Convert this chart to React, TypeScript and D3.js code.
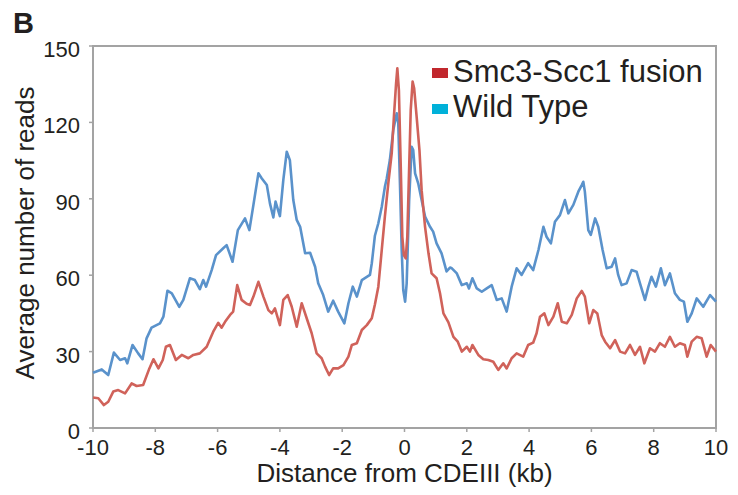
import React from 'react'
import * as d3 from 'd3'

// Smc3-Scc1 fusion (red), distance in kb and average reads
const fusionKb = [
  -10.0, -9.83, -9.65, -9.51, -9.35, -9.19, -8.97, -8.76, -8.6, -8.39, -8.19, -8.06, -7.9, -7.76, -7.66,
  -7.53, -7.34, -7.15, -6.94, -6.78, -6.57, -6.35, -6.14, -5.98, -5.87, -5.76, -5.6, -5.5, -5.37, -5.23,
  -5.07, -4.96, -4.85, -4.69, -4.53, -4.37, -4.26, -4.16, -4.0, -3.89, -3.75, -3.62, -3.46, -3.3, -3.14,
  -2.98, -2.82, -2.66, -2.55, -2.42, -2.29, -2.13, -1.96, -1.8, -1.69, -1.53, -1.37, -1.21, -1.05, -0.95,
  -0.84, -0.73, -0.63, -0.52, -0.41, -0.34, -0.27, -0.23, -0.18, -0.12, -0.07, -0.02, 0.04, 0.09, 0.15,
  0.2, 0.26, 0.31, 0.39, 0.48, 0.55, 0.66, 0.77, 0.87, 1.03, 1.14, 1.25, 1.41, 1.57, 1.71,
  1.84, 2.0, 2.1, 2.18, 2.37, 2.53, 2.69, 2.85, 3.01, 3.17, 3.28, 3.44, 3.6, 3.81, 3.97,
  4.13, 4.24, 4.35, 4.49, 4.62, 4.78, 4.92, 5.05, 5.21, 5.37, 5.53, 5.69, 5.79, 5.93, 6.06,
  6.19, 6.33, 6.44, 6.6, 6.76, 6.92, 7.08, 7.24, 7.4, 7.56, 7.7, 7.88, 8.04, 8.2, 8.36,
  8.52, 8.68, 8.84, 9.0, 9.08, 9.22, 9.38, 9.54, 9.7, 9.83, 10.0
]
const fusionReads = [
  12.0, 11.7, 9.0, 10.3, 14.3, 14.9, 13.6, 17.5, 16.5, 16.9, 23.4, 27.0, 23.4, 26.7, 31.9,
  32.6, 26.7, 28.7, 27.4, 28.7, 29.3, 31.9, 37.8, 41.3, 39.4, 41.7, 44.4, 45.7, 56.1, 50.3,
  48.8, 48.3, 51.6, 57.4, 51.6, 46.3, 45.0, 47.0, 40.4, 50.3, 52.2, 47.6, 39.8, 49.0, 43.1,
  37.2, 29.3, 27.4, 24.1, 20.8, 23.4, 23.4, 24.7, 28.0, 32.6, 33.3, 38.5, 40.4, 43.1, 48.5,
  55.5, 69.9, 83.0, 96.1, 107.9, 122.2, 135.3, 141.2, 132.7, 102.6, 75.1, 67.9, 66.6, 75.1, 102.6,
  124.9, 136.0, 133.4, 122.2, 109.1, 93.4, 79.0, 68.6, 60.7, 58.8, 52.9, 45.0, 41.5, 35.8, 33.9,
  30.0, 31.9, 30.0, 32.6, 28.7, 27.0, 26.7, 26.0, 22.8, 25.4, 23.4, 27.4, 29.3, 28.0, 32.6,
  33.5, 37.2, 43.7, 45.0, 40.4, 43.7, 49.0, 41.7, 41.1, 44.4, 50.9, 53.8, 51.6, 41.1, 46.3,
  45.0, 36.5, 33.9, 31.3, 34.5, 30.0, 29.3, 32.6, 28.7, 31.9, 25.4, 31.3, 30.0, 33.3, 31.9,
  35.8, 31.9, 33.3, 32.6, 28.0, 33.9, 35.8, 35.2, 28.0, 32.6, 30.0
]

// Wild Type (blue)
const wildKb = [
  -10.0, -9.72, -9.51, -9.33, -9.13, -8.97, -8.9, -8.73, -8.55, -8.41, -8.28, -8.12, -7.85, -7.74, -7.61,
  -7.47, -7.23, -7.1, -6.89, -6.73, -6.57, -6.46, -6.37, -6.19, -6.05, -5.82, -5.71, -5.52, -5.35, -5.12,
  -4.98, -4.85, -4.69, -4.58, -4.42, -4.32, -4.21, -4.14, -4.0, -3.89, -3.78, -3.68, -3.57, -3.46, -3.35,
  -3.19, -3.03, -2.87, -2.77, -2.61, -2.45, -2.29, -2.13, -1.93, -1.8, -1.66, -1.53, -1.37, -1.11, -1.05,
  -0.95, -0.84, -0.73, -0.63, -0.57, -0.47, -0.36, -0.25, -0.2, -0.14, -0.09, -0.04, 0.02, 0.07, 0.15,
  0.23, 0.28, 0.34, 0.44, 0.55, 0.66, 0.82, 0.92, 1.03, 1.19, 1.35, 1.46, 1.52, 1.68, 1.84,
  2.0, 2.07, 2.18, 2.32, 2.48, 2.64, 2.8, 2.96, 3.12, 3.28, 3.44, 3.6, 3.76, 3.97, 4.13,
  4.3, 4.46, 4.56, 4.7, 4.83, 4.99, 5.15, 5.26, 5.42, 5.58, 5.69, 5.74, 5.79, 5.9, 5.98,
  6.12, 6.22, 6.36, 6.49, 6.65, 6.76, 6.86, 6.97, 7.13, 7.29, 7.45, 7.56, 7.72, 7.83, 7.93,
  8.07, 8.23, 8.36, 8.52, 8.68, 8.84, 8.97, 9.08, 9.22, 9.38, 9.59, 9.81, 10.0
]
const wildReads = [
  21.7, 23.0, 20.8, 29.6, 26.7, 27.4, 25.4, 32.6, 29.3, 27.0, 35.2, 39.4, 41.1, 43.7, 53.9,
  52.9, 47.6, 50.3, 58.8, 58.1, 54.5, 58.1, 55.5, 62.0, 67.9, 70.6, 71.8, 65.3, 77.7, 82.3,
  77.7, 87.6, 100.0, 98.0, 95.4, 88.2, 82.7, 88.9, 83.2, 97.4, 108.5, 105.2, 89.5, 81.7, 79.0,
  68.6, 68.8, 63.3, 56.8, 52.2, 45.7, 50.0, 45.7, 41.1, 49.0, 55.5, 51.6, 58.1, 60.1, 64.7,
  75.5, 80.4, 86.9, 94.7, 98.0, 105.2, 117.0, 123.6, 119.6, 93.4, 69.9, 54.2, 49.6, 56.8, 89.5,
  110.4, 109.1, 100.0, 96.1, 89.5, 83.0, 79.0, 77.1, 72.5, 68.6, 61.5, 63.0, 62.7, 60.7, 56.1,
  56.8, 54.8, 58.8, 54.8, 53.5, 54.8, 56.1, 50.3, 50.9, 45.7, 55.5, 62.7, 60.1, 64.7, 62.0,
  69.9, 79.0, 75.1, 72.5, 81.0, 83.6, 89.5, 84.3, 87.6, 92.8, 95.4, 96.7, 92.8, 77.7, 75.8,
  82.3, 79.0, 69.9, 62.7, 63.3, 66.6, 60.1, 56.1, 56.8, 62.0, 61.4, 56.8, 50.3, 55.5, 59.4,
  55.5, 62.7, 56.1, 60.7, 52.9, 50.3, 49.6, 41.7, 45.0, 50.9, 47.6, 52.2, 49.6
]

const xTicks = [-10, -8, -6, -4, -2, 0, 2, 4, 6, 8, 10]
const yTicks = [0, 30, 60, 90, 120, 150]
const legendLabels = ['Smc3-Scc1 fusion', 'Wild Type']

const width = 738
const height = 495
const margin = { top: 46, right: 22, bottom: 67, left: 93 }
const font = '"Liberation Sans", Arial, sans-serif'

export default function App () {
  const innerW = width - margin.left - margin.right
  const innerH = height - margin.top - margin.bottom

  const x = d3.scaleLinear().domain([-10, 10]).range([margin.left, margin.left + innerW])
  const y = d3.scaleLinear().domain([0, 150]).range([margin.top + innerH, margin.top])

  const line = d3.line<[number, number]>()
    .x((d) => x(d[0]))
    .y((d) => y(d[1]))

  const fusion = fusionKb.map((k, i) => [k, fusionReads[i]] as [number, number])
  const wild = wildKb.map((k, i) => [k, wildReads[i]] as [number, number])

  const axisColor = '#a3a3a3'
  const bottom = margin.top + innerH

  return (
    <svg width={width} height={height} style={{ position: 'absolute', left: 0, top: 0 }}>
      <rect width={width} height={height} fill='#fff' />
      <text x={13} y={33} fontFamily={font} fontWeight='bold' fontSize={29} fill='#231f20'>B</text>

      {/* frame */}
      <rect x={margin.left} y={margin.top} width={innerW} height={innerH}
        fill='none' stroke={axisColor} strokeWidth={2} />

      {yTicks.map((t) => (
        <g key={'y' + t}>
          <line x1={margin.left - 4} x2={margin.left} y1={y(t)} y2={y(t)} stroke={axisColor} strokeWidth={1.5} />
          <text x={80} y={y(t) + 11} textAnchor='end' fontFamily={font} fontSize={22} fill='#231f20'>{t}</text>
        </g>
      ))}
      {xTicks.map((t) => (
        <g key={'x' + t}>
          <line x1={x(t)} x2={x(t)} y1={bottom} y2={bottom + 4} stroke={axisColor} strokeWidth={1.5} />
          <text x={x(t)} y={455} textAnchor='middle' fontFamily={font} fontSize={22} fill='#231f20'>{String(t)}</text>
        </g>
      ))}

      <path d={line(wild) || ''} fill='none' stroke='#5a92cb' strokeWidth={2.6} strokeLinejoin='round' />
      <path d={line(fusion) || ''} fill='none' stroke='#d0625a' strokeWidth={2.6} strokeLinejoin='round' />

      <text x={margin.left + innerW / 2} y={482} textAnchor='middle' fontFamily={font} fontSize={26} fill='#231f20'>
        Distance from CDEIII (kb)
      </text>
      <text transform={`translate(34,${margin.top + innerH / 2 - 4}) rotate(-90)`} textAnchor='middle'
        fontFamily={font} fontSize={26} fill='#231f20'>
        Average number of reads
      </text>

      {/* legend */}
      {legendLabels.map((label, i) => (
        <g key={label}>
          <rect x={432} y={68 + i * 36} width={16} height={10} fill={i === 0 ? '#c1272d' : '#00b1d9'} />
          <text x={453} y={82 + i * 35} fontFamily={font} fontSize={31} fill='#231f20'>{label}</text>
        </g>
      ))}
    </svg>
  )
}
